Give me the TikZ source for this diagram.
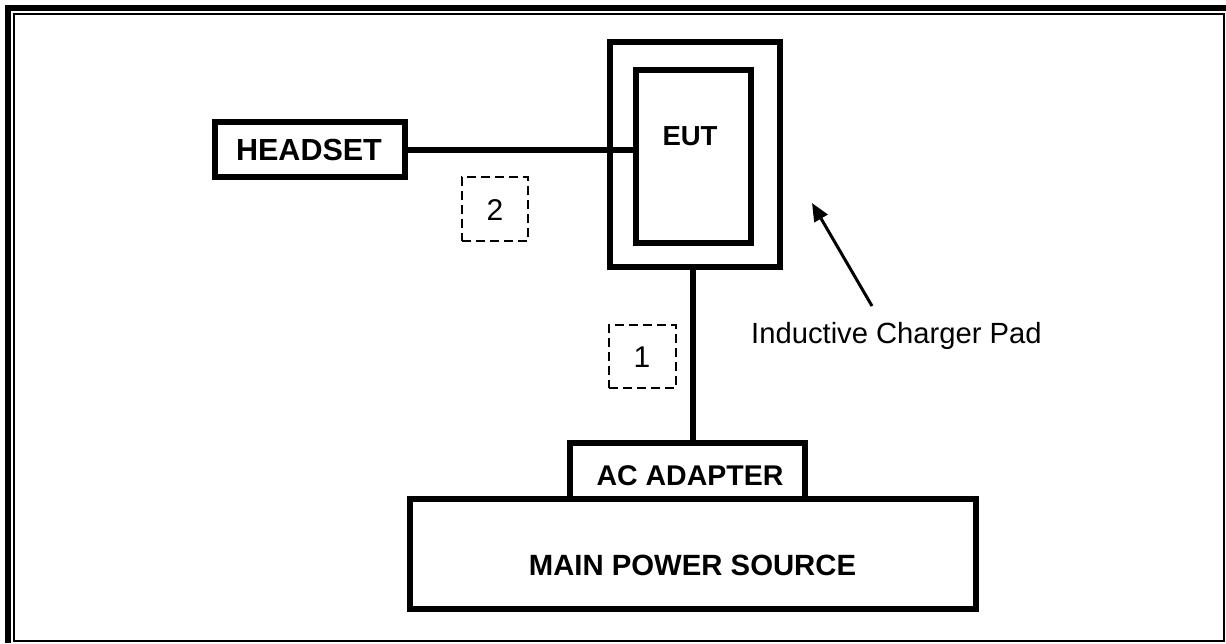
\documentclass[tikz,border=0pt]{standalone}
\usepackage{fontspec}
\setmainfont{Liberation Sans}
\usetikzlibrary{arrows.meta}
\begin{document}
\begin{tikzpicture}[x=1pt,y=-1pt,
  box/.style={draw=black,line width=6pt,inner sep=0pt,fill=white},
  dbox/.style={draw=black,line width=2pt,dash pattern=on 9pt off 5pt,inner sep=0pt},
  btext/.style={font=\fontsize{29}{31}\selectfont\bfseries,inner sep=0pt},
  ntext/.style={font=\fontsize{30}{32}\selectfont,inner sep=0pt},
  wire/.style={line width=6pt}]
\useasboundingbox (0,0) rectangle (1226,643);
% frame
\draw[line width=6pt] (8,643) -- (8,8) -- (1226,8);
\draw[line width=2pt] (14,14) rectangle (1224,641);
% boxes
\node[box,minimum width=190pt,minimum height=55pt] (headset) at (310,149.5) {};
\node[btext,font=\fontsize{30.5}{32}\selectfont\bfseries] (headsettext) at (309,150) {HEADSET};
\node[box,minimum width=170pt,minimum height=225pt] (pad) at (695,154.5) {};
\node[box,minimum width=115pt,minimum height=173pt] (eut) at (693.5,156.5) {};
\node[btext,font=\fontsize{27.5}{30}\selectfont\bfseries] (euttext) at (690,136) {EUT};
\node[box,minimum width=566pt,minimum height=110pt] (main) at (693,553.5) {};
\node[btext,font=\fontsize{29.3}{32}\selectfont\bfseries] (maintext) at (692.5,565) {MAIN POWER SOURCE};
\node[box,minimum width=235pt,minimum height=55.5pt] (ac) at (687.5,470.75) {};
\node[btext,font=\fontsize{28.5}{30}\selectfont\bfseries] (actext) at (690,476) {AC ADAPTER};
% dashed boxes
\node[dbox,minimum width=66pt,minimum height=64pt] (d2) at (495,209) {};
\node[ntext] (t2) at (495,210) {2};
\node[dbox,minimum width=67pt,minimum height=63pt] (d1) at (642.5,356.5) {};
\node[ntext] (t1) at (642,357) {1};
% wires
\draw[wire] (headset.east) -- (eut.west |- headset.east);
\coordinate (padb) at (692.5,267);
\coordinate (acb) at (692.5,443);
\draw[wire] (padb) -- (acb);
% label and arrow
\node[ntext,font=\fontsize{29.2}{31}\selectfont,anchor=west] (lbl) at (751,336) {Inductive Charger Pad};
\coordinate (atail) at (872,306);
\coordinate (ahead) at (812,203);
\draw[line width=3pt,-{Triangle[length=18pt,width=15pt]}] (atail) -- (ahead);
\end{tikzpicture}
\end{document}
